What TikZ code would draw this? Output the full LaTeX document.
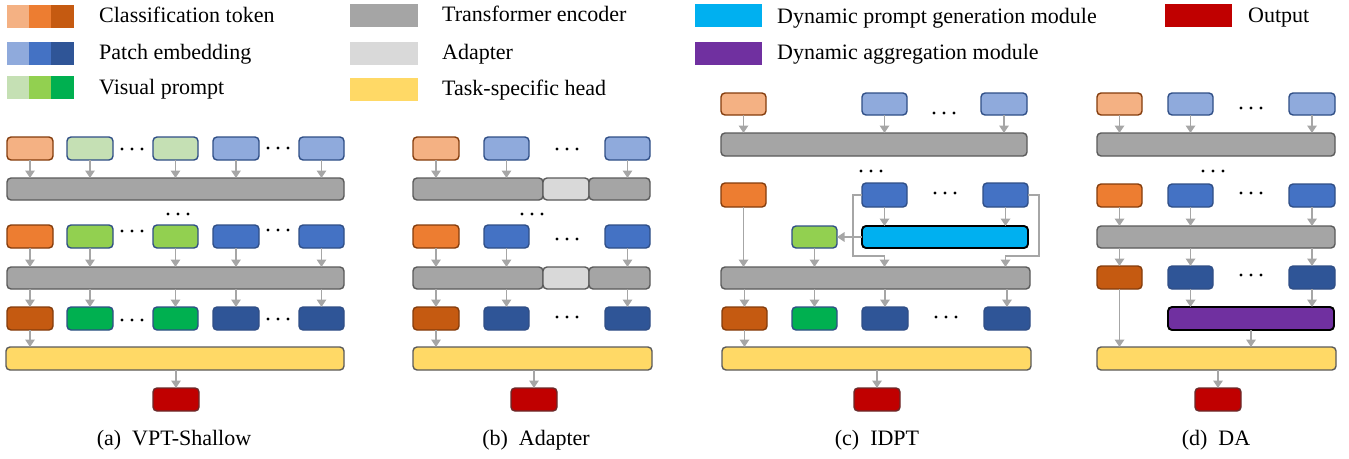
\documentclass[tikz,border=0pt]{standalone}
\usepackage{fontspec}
\setmainfont{Liberation Serif}
\usetikzlibrary{arrows.meta,calc}
\definecolor{cA}{HTML}{F4B183}\definecolor{cB}{HTML}{ED7D31}\definecolor{cC}{HTML}{C55A11}
\definecolor{pA}{HTML}{8FAADC}\definecolor{pB}{HTML}{4472C4}\definecolor{pC}{HTML}{2F5597}
\definecolor{vA}{HTML}{C5E0B4}\definecolor{vB}{HTML}{92D050}\definecolor{vC}{HTML}{00B050}
\definecolor{encC}{HTML}{A5A5A5}\definecolor{adaC}{HTML}{D9D9D9}\definecolor{headC}{HTML}{FFD966}
\definecolor{dpgC}{HTML}{00B0F0}\definecolor{damC}{HTML}{7030A0}\definecolor{outC}{HTML}{C00000}
\definecolor{brdO}{HTML}{843C0C}\definecolor{brdB}{HTML}{2F4E86}\definecolor{brdG}{HTML}{5A5A5A}
\definecolor{brdR}{HTML}{6B2A2A}\definecolor{arrG}{HTML}{A6A6A6}
\newcommand\mkbox[6]{\node[#6, minimum width={#4-(#2)}, minimum height={#5-(#3)}] (#1) at ({(#2+#4)/2},{(#3+#5)/2}) {};}
\newcommand\dts[2]{\foreach \k in {-1,0,1}{\fill ({#1+\k*10},#2) circle (1.6pt);}}
\tikzset{
  bx/.style={draw, rounded corners=4pt, line width=1.4pt, inner sep=0pt, outer sep=0pt},
  sca/.style={bx, fill=cA, draw=brdO}, scb/.style={bx, fill=cB, draw=brdO}, scc/.style={bx, fill=cC, draw=brdO},
  spa/.style={bx, fill=pA, draw=brdB}, spb/.style={bx, fill=pB, draw=brdB}, spc/.style={bx, fill=pC, draw=brdB},
  sva/.style={bx, fill=vA, draw=brdB}, svb/.style={bx, fill=vB, draw=brdB}, svc/.style={bx, fill=vC, draw=brdB},
  senc/.style={bx, fill=encC, draw=brdG}, sada/.style={bx, fill=adaC, draw=brdG},
  shead/.style={bx, fill=headC, draw=brdG}, sout/.style={bx, fill=outC, draw=brdR},
  sdpg/.style={bx, fill=dpgC, draw=black, line width=1.9pt}, sdam/.style={bx, fill=damC, draw=black, line width=1.9pt},
  lg/.style={inner sep=0pt, outer sep=0pt, draw=none},
  txt/.style={anchor=base west, inner sep=0pt, font=\rmfamily\fontsize{22}{26}\selectfont},
  capt/.style={anchor=base, inner sep=0pt, font=\rmfamily\fontsize{22}{26}\selectfont},
  arr/.style={draw=arrG, line width=1.7pt, -{Triangle[width=9.5pt,length=7.5pt]}},
}
\begin{document}
\begin{tikzpicture}[x=1pt,y=-1pt]
\useasboundingbox (0,0) rectangle (1349,458);
% ---------------- legend ----------------
\mkbox{l1a}{7}{5}{29}{28}{lg,fill=cA}\mkbox{l1b}{29}{5}{51}{28}{lg,fill=cB}\mkbox{l1c}{51}{5}{74}{28}{lg,fill=cC}
\mkbox{l2a}{7}{42}{29}{65}{lg,fill=pA}\mkbox{l2b}{29}{42}{51}{65}{lg,fill=pB}\mkbox{l2c}{51}{42}{74}{65}{lg,fill=pC}
\mkbox{l3a}{7}{76}{29}{99}{lg,fill=vA}\mkbox{l3b}{29}{76}{51}{99}{lg,fill=vB}\mkbox{l3c}{51}{76}{74}{99}{lg,fill=vC}
\mkbox{l4}{350}{4}{418}{27}{lg,fill=encC}
\mkbox{l5}{350}{42}{418}{65}{lg,fill=adaC}
\mkbox{l6}{350}{78}{418}{101}{lg,fill=headC}
\mkbox{l7}{695}{4}{762}{27}{lg,fill=dpgC}
\mkbox{l8}{695}{42}{762}{65}{lg,fill=damC}
\mkbox{l9}{1165}{4}{1232}{27}{lg,fill=outC}
\node[txt] (t1) at (99,22) {Classification token};
\node[txt] (t2) at (99,59) {Patch embedding};
\node[txt] (t3) at (99,94) {Visual prompt};
\node[txt] (t4) at (442,21) {Transformer encoder};
\node[txt] (t5) at (442,59) {Adapter};
\node[txt] (t6) at (442,95) {Task-specific head};
\node[txt] (t7) at (777,23) {Dynamic prompt generation module};
\node[txt] (t8) at (777,59) {Dynamic aggregation module};
\node[txt] (t9) at (1248,22) {Output};
% ---------------- (a) VPT-Shallow ----------------
\mkbox{a1}{7}{137}{53}{160}{sca}\mkbox{a2}{67}{137}{113}{160}{sva}\mkbox{a3}{153}{137}{198}{160}{sva}
\mkbox{a4}{213}{137}{259}{160}{spa}\mkbox{a5}{299}{137}{344}{160}{spa}
\mkbox{ae1}{7}{178}{344}{200}{senc}
\mkbox{a6}{7}{225}{53}{248}{scb}\mkbox{a7}{67}{225}{113}{248}{svb}\mkbox{a8}{153}{225}{198}{248}{svb}
\mkbox{a9}{213}{225}{259}{248}{spb}\mkbox{a10}{299}{225}{344}{248}{spb}
\mkbox{ae2}{7}{267}{344}{289}{senc}
\mkbox{a11}{7}{307}{53}{330}{scc}\mkbox{a12}{67}{307}{113}{330}{svc}\mkbox{a13}{153}{307}{198}{330}{svc}
\mkbox{a14}{213}{307}{259}{330}{spc}\mkbox{a15}{299}{307}{344}{330}{spc}
\mkbox{ah}{6}{347}{344}{370}{shead}
\mkbox{ao}{153}{388}{199}{411}{sout}
\foreach \i in {1,...,5}{\draw[arr] (a\i.south) -- (a\i.south |- ae1.north);}
\foreach \i in {6,...,10}{\draw[arr] (a\i.south) -- (a\i.south |- ae2.north);}
\foreach \i in {11,...,15}{\draw[arr] (a\i.north |- ae2.south) -- (a\i.north);}
\draw[arr] (a11.south) -- (a11.south |- ah.north);
\draw[arr] (ah.south -| ao.north) -- (ao.north);
\dts{132}{149}\dts{278}{148}\dts{178}{214}\dts{132}{231}\dts{278}{230}\dts{132}{320}\dts{278}{319}
\node[capt] (capa) at (174,445) {(a)\enspace VPT-Shallow};
% ---------------- (b) Adapter ----------------
\mkbox{b1}{413}{137}{459}{160}{sca}\mkbox{b2}{484}{137}{529}{160}{spa}\mkbox{b3}{605}{137}{650}{160}{spa}
\mkbox{be1a}{413}{178}{543}{200}{senc}\mkbox{be1b}{543}{178}{589}{200}{sada}\mkbox{be1c}{589}{178}{650}{200}{senc}
\mkbox{b4}{413}{225}{459}{248}{scb}\mkbox{b5}{484}{225}{529}{248}{spb}\mkbox{b6}{605}{225}{650}{248}{spb}
\mkbox{be2a}{413}{267}{543}{289}{senc}\mkbox{be2b}{543}{267}{589}{289}{sada}\mkbox{be2c}{589}{267}{650}{289}{senc}
\mkbox{b7}{413}{307}{459}{330}{scc}\mkbox{b8}{484}{307}{529}{330}{spc}\mkbox{b9}{605}{307}{650}{330}{spc}
\mkbox{bh}{413}{347}{652}{370}{shead}
\mkbox{bo}{511}{388}{557}{411}{sout}
\draw[arr] (b1.south) -- (b1.south |- be1a.north);
\draw[arr] (b2.south) -- (b2.south |- be1a.north);
\draw[arr] (b3.south) -- (b3.south |- be1c.north);
\draw[arr] (b4.south) -- (b4.south |- be2a.north);
\draw[arr] (b5.south) -- (b5.south |- be2a.north);
\draw[arr] (b6.south) -- (b6.south |- be2c.north);
\draw[arr] (b7.north |- be2a.south) -- (b7.north);
\draw[arr] (b8.north |- be2a.south) -- (b8.north);
\draw[arr] (b9.north |- be2c.south) -- (b9.north);
\draw[arr] (b7.south) -- (b7.south |- bh.north);
\draw[arr] (bh.south -| bo.north) -- (bo.north);
\dts{567}{149}\dts{532}{214}\dts{567}{239}\dts{567}{317}
\node[capt] (capb) at (536,445) {(b)\enspace Adapter};
% ---------------- (c) IDPT ----------------
\mkbox{c1}{721}{93}{766}{115}{sca}\mkbox{c2}{862}{93}{907}{115}{spa}\mkbox{c3}{981}{93}{1027}{115}{spa}
\mkbox{ce1}{721}{133}{1027}{156}{senc}
\mkbox{c4}{721}{183}{766}{207}{scb}\mkbox{c5}{862}{183}{907}{207}{spb}\mkbox{c6}{983}{183}{1028}{207}{spb}
\mkbox{cg}{862}{226}{1028}{248}{sdpg}
\mkbox{cv}{792}{226}{837}{248}{svb}
\mkbox{ce2}{721}{267}{1030}{289}{senc}
\mkbox{c7}{722}{307}{767}{330}{scc}\mkbox{c8}{792}{307}{837}{330}{svc}\mkbox{c9}{862}{307}{908}{330}{spc}\mkbox{c10}{984}{307}{1030}{330}{spc}
\mkbox{ch}{722}{347}{1031}{370}{shead}
\mkbox{co}{854}{388}{900}{411}{sout}
\foreach \i in {1,2,3}{\draw[arr] (c\i.south) -- (c\i.south |- ce1.north);}
\draw[arr] (c5.south) -- (c5.south |- cg.north);
\draw[arr] (c6.south) -- (c6.south |- cg.north);
\draw[arr] (cg.west) -- (cv.east);
\draw[arr] (c4.south) -- (c4.south |- ce2.north);
\draw[arr] (cv.south) -- (cv.south |- ce2.north);
\coordinate (cbl) at (853,256);
\coordinate (cbr) at (1039,256);
\draw[arr] (c5.west) -| (cbl) -| (c5.south |- ce2.north);
\draw[arr] (c6.east) -| (cbr) -| (c6.south |- ce2.north);
\foreach \i in {7,8,9,10}{\draw[arr] (c\i.north |- ce2.south) -- (c\i.north);}
\draw[arr] (c7.south) -- (c7.south |- ch.north);
\draw[arr] (ch.south -| co.north) -- (co.north);
\dts{944}{113}\dts{871}{171}\dts{945}{193}\dts{946}{317}
\node[capt] (capc) at (877,445) {(c)\enspace IDPT};
% ---------------- (d) DA ----------------
\mkbox{d1}{1097}{93}{1142}{115}{sca}\mkbox{d2}{1168}{93}{1213}{115}{spa}\mkbox{d3}{1289}{93}{1335}{115}{spa}
\mkbox{de1}{1097}{133}{1335}{156}{senc}
\mkbox{d4}{1097}{184}{1142}{207}{scb}\mkbox{d5}{1168}{184}{1213}{207}{spb}\mkbox{d6}{1289}{184}{1335}{207}{spb}
\mkbox{de2}{1097}{226}{1335}{248}{senc}
\mkbox{d7}{1097}{266}{1142}{289}{scc}\mkbox{d8}{1168}{266}{1213}{289}{spc}\mkbox{d9}{1289}{266}{1335}{289}{spc}
\mkbox{dm}{1168}{307}{1334}{330}{sdam}
\mkbox{dh}{1097}{347}{1336}{370}{shead}
\mkbox{dout}{1195}{388}{1241}{411}{sout}
\foreach \i in {1,2,3}{\draw[arr] (d\i.south) -- (d\i.south |- de1.north);}
\foreach \i in {4,5,6}{\draw[arr] (d\i.south) -- (d\i.south |- de2.north);}
\foreach \i in {7,8,9}{\draw[arr] (d\i.north |- de2.south) -- (d\i.north);}
\draw[arr] (d8.south) -- (d8.south |- dm.north);
\draw[arr] (d9.south) -- (d9.south |- dm.north);
\draw[arr] (d7.south) -- (d7.south |- dh.north);
\draw[arr] (dm.south) -- (dm.south |- dh.north);
\draw[arr] (dh.south -| dout.north) -- (dout.north);
\dts{1251}{108}\dts{1213}{171}\dts{1251}{193}\dts{1251}{275}
\node[capt] (capd) at (1216,445) {(d)\enspace DA};
\end{tikzpicture}
\end{document}
